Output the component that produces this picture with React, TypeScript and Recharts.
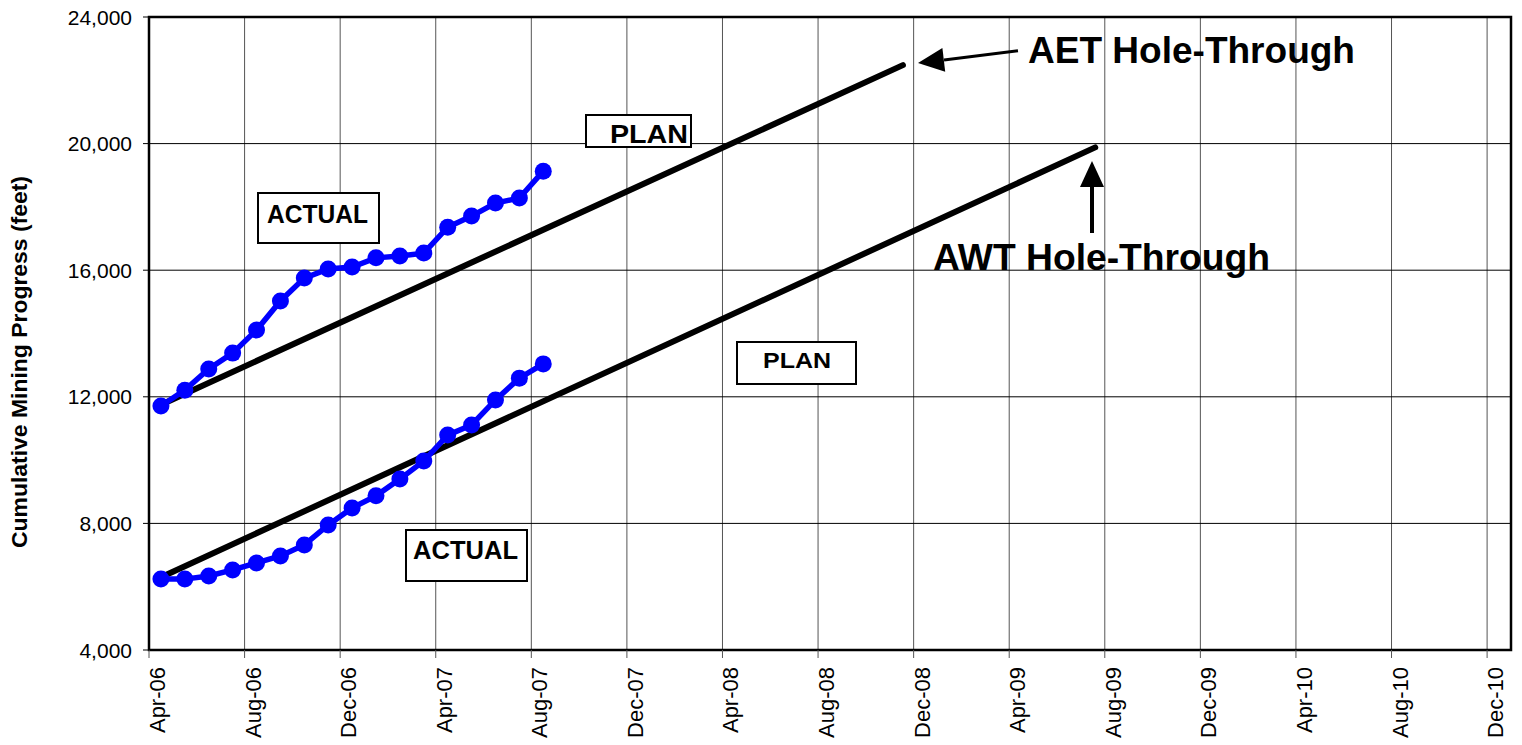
import { LineChart, Line, XAxis, YAxis, CartesianGrid, ReferenceArea } from "recharts";

// months since Apr-06 (mid-month readings)
const actualMonths = [0.5, 1.5, 2.5, 3.5, 4.5, 5.5, 6.5, 7.5, 8.5, 9.5, 10.5, 11.5, 12.5, 13.5, 14.5, 15.5, 16.5];
const aetActual = [11710, 12210, 12880, 13380, 14110, 15030, 15750, 16040, 16100, 16390, 16450, 16540, 17360, 17710, 18120, 18280, 19130];
const awtActual = [6240, 6240, 6340, 6530, 6750, 6970, 7320, 7950, 8490, 8870, 9400, 9970, 10790, 11110, 11900, 12590, 13040];

const aetPlanMonths = [0.5, 31.55];
const aetPlan = [11750, 22480];
const awtPlanMonths = [0.5, 39.6];
const awtPlan = [6300, 19880];

const xTicks = [0, 4, 8, 12, 16, 20, 24, 28, 32, 36, 40, 44, 48, 52, 56];
const xLabels = ["Apr-06", "Aug-06", "Dec-06", "Apr-07", "Aug-07", "Dec-07", "Apr-08", "Aug-08", "Dec-08", "Apr-09", "Aug-09", "Dec-09", "Apr-10", "Aug-10", "Dec-10"];
const yTicks = [4000, 8000, 12000, 16000, 20000, 24000];

const toPoints = (xs: number[], ys: number[]) => xs.map((m, i) => ({ m, v: ys[i] }));

const FONT = "'Liberation Sans', Arial, sans-serif";

const XTick = (props: any) => {
  const { x, y, payload } = props;
  const label = xLabels[xTicks.indexOf(payload.value)];
  return (
    <text transform={`translate(${x + 16},${y}) rotate(-90)`} textAnchor="end" fontFamily={FONT} fontSize={22} fill="#000">
      {label}
    </text>
  );
};

const YTick = (props: any) => {
  const { x, y, payload } = props;
  return (
    <text x={x} y={y} dy="0.36em" textAnchor="end" fontFamily={FONT} fontSize={21} fill="#000">
      {Number(payload.value).toLocaleString("en-US")}
    </text>
  );
};

const Box = ({ x, y, w, h, tx, ty, size, len, text }: any) => (
  <g>
    <rect x={x} y={y} width={w} height={h} fill="#fff" stroke="#000" strokeWidth={2} />
    <text x={tx} y={ty} fontFamily={FONT} fontWeight="bold" fontSize={size} textLength={len} lengthAdjust="spacingAndGlyphs" fill="#000">
      {text}
    </text>
  </g>
);

export default function App() {
  return (
    <div style={{ position: "absolute", left: 0, top: 0, width: 1522, height: 745, background: "#fff" }}>
      <LineChart width={1522} height={745} margin={{ top: 17, right: 11, left: 0, bottom: 0 }}>
        <CartesianGrid horizontal={false} stroke="#555" strokeWidth={1} />
        <CartesianGrid vertical={false} stroke="#000" strokeWidth={1} />
        <XAxis
          type="number"
          dataKey="m"
          domain={[0, 57]}
          ticks={xTicks}
          allowDataOverflow
          height={95}
          tickSize={8}
          tickMargin={9}
          tick={<XTick />}
          tickLine={{ stroke: "#555" }}
          axisLine={{ stroke: "#000", strokeWidth: 2 }}
          interval={0}
        />
        <YAxis
          type="number"
          dataKey="v"
          domain={[4000, 24000]}
          ticks={yTicks}
          allowDataOverflow
          width={149}
          tickSize={6}
          tickMargin={11}
          tick={<YTick />}
          tickLine={{ stroke: "#000" }}
          axisLine={{ stroke: "#000", strokeWidth: 2 }}
          interval={0}
        />
        <ReferenceArea x1={0} x2={57} y1={4000} y2={24000} fill="none" stroke="#000" strokeWidth={2.5} fillOpacity={0} />
        <Line data={toPoints(aetPlanMonths, aetPlan)} dataKey="v" stroke="#000" strokeWidth={6} strokeLinecap="round" dot={false} isAnimationActive={false} />
        <Line data={toPoints(awtPlanMonths, awtPlan)} dataKey="v" stroke="#000" strokeWidth={6} strokeLinecap="round" dot={false} isAnimationActive={false} />
        <Line
          data={toPoints(actualMonths, aetActual)}
          dataKey="v"
          stroke="#0000FF"
          strokeWidth={5.5}
          dot={{ r: 8.5, fill: "#0000FF", stroke: "#0000FF", strokeWidth: 0 }}
          isAnimationActive={false}
        />
        <Line
          data={toPoints(actualMonths, awtActual)}
          dataKey="v"
          stroke="#0000FF"
          strokeWidth={5.5}
          dot={{ r: 8.5, fill: "#0000FF", stroke: "#0000FF", strokeWidth: 0 }}
          isAnimationActive={false}
        />
      </LineChart>
      <svg width={1522} height={745} style={{ position: "absolute", left: 0, top: 0, pointerEvents: "none" }}>
        <text transform="translate(27,362) rotate(-90)" textAnchor="middle" fontFamily={FONT} fontWeight="bold" fontSize={22} textLength={372} lengthAdjust="spacingAndGlyphs" fill="#000">
          Cumulative Mining Progress (feet)
        </text>
        <Box x={258} y={193} w={121} h={50} tx={267} ty={223} size={25} len={101} text="ACTUAL" />
        <Box x={406} y={530} w={121} h={51} tx={413} ty={559} size={25} len={105} text="ACTUAL" />
        <Box x={586} y={115} w={105} h={32} tx={610} ty={143} size={25} len={78} text="PLAN" />
        <Box x={737} y={342} w={119} h={42} tx={763} ty={368} size={22} len={68} text="PLAN" />
        <line x1={1018} y1={50.7} x2={944} y2={60} stroke="#000" strokeWidth={3} />
        <polygon points="918,63 945.2,71.8 942.4,48" fill="#000" />
        <text x={1028} y={63} fontFamily={FONT} fontWeight="bold" fontSize={37} fill="#000" textLength={327} lengthAdjust="spacingAndGlyphs">
          AET Hole-Through
        </text>
        <line x1={1092} y1={233} x2={1092} y2={186} stroke="#000" strokeWidth={4} />
        <polygon points="1092,161 1104,187 1080,187" fill="#000" />
        <text x={933} y={270} fontFamily={FONT} fontWeight="bold" fontSize={36} fill="#000" textLength={337} lengthAdjust="spacingAndGlyphs">
          AWT Hole-Through
        </text>
      </svg>
    </div>
  );
}
